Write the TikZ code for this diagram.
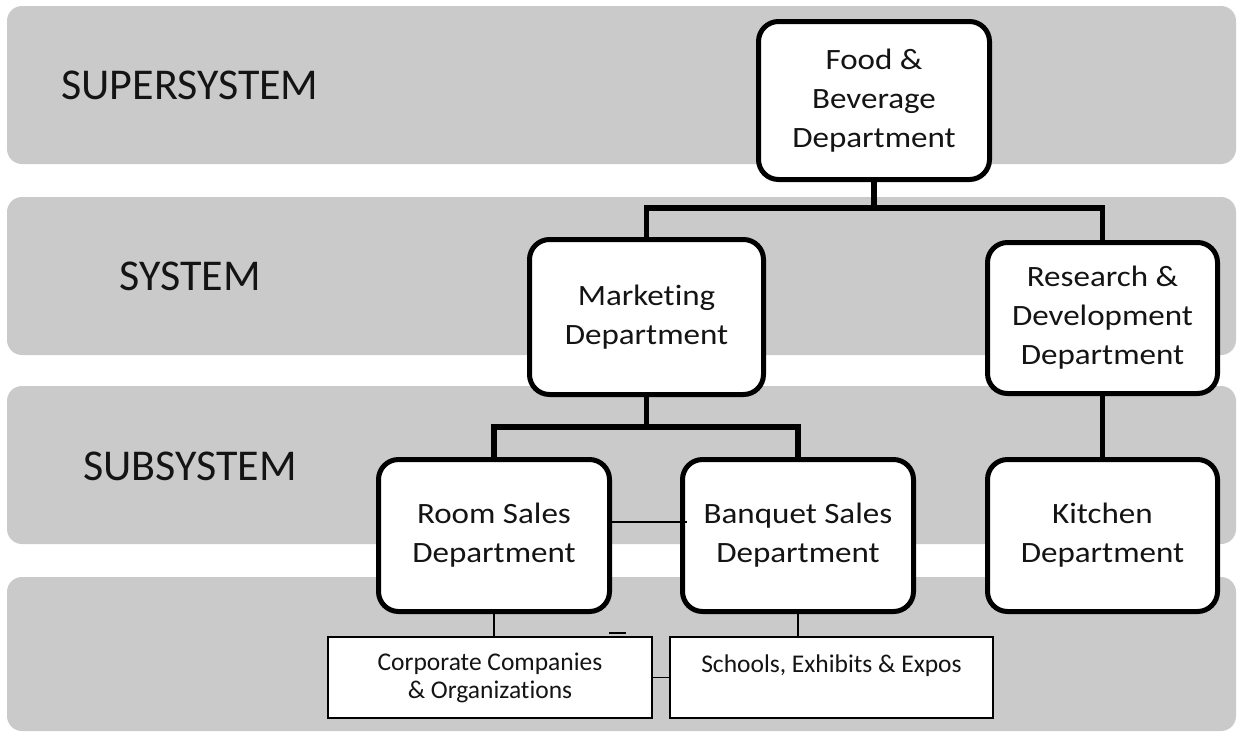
\documentclass[tikz,border=0pt]{standalone}
\usepackage{fontspec}
\setmainfont{Carlito}[Ligatures=NoCommon]
\newfontfamily\nodefont{Carlito}[FakeStretch=1.12, Ligatures=NoCommon]
\definecolor{bandgray}{HTML}{CACACA}
\definecolor{inkc}{HTML}{141414}
\tikzset{
  band/.style={fill=bandgray, rounded corners=15pt},
  lvl/.style={font=\fontsize{44}{50}\selectfont, text=inkc, inner sep=0pt},
  dept/.style={draw=black, fill=white, line width=5pt, rounded corners=20pt,
    align=center, inner sep=2pt, text=inkc,
    font=\nodefont\fontsize{29.5}{39}\selectfont},
  smallbox/.style={draw=black, fill=white, line width=1.8pt,
    align=center, inner sep=2pt, text=inkc,
    font=\fontsize{25.5}{28}\selectfont,
    minimum height=81pt},
  thickline/.style={line width=5.5pt},
  thinline/.style={line width=1.8pt}
}
\begin{document}
\begin{tikzpicture}[x=1pt,y=-1pt]
\useasboundingbox (0,0) rectangle (1239,732);
\fill[white] (0,0) rectangle (1239,732);
% bands
\fill[band] (7,6) rectangle (1236,164);
\fill[band] (7,197) rectangle (1236,355);
\fill[band] (7,386) rectangle (1236,544);
\fill[band] (7,577) rectangle (1236,731);
% level labels
\node[lvl] (lsup) at (190,85) {SUPERSYSTEM};
\node[lvl] (lsys) at (190,276) {SYSTEM};
\node[lvl] (lsub) at (190,466) {SUBSYSTEM};
% coordinates for bars
\coordinate (b1) at (0,208);
\coordinate (b2) at (0,427);
% department nodes
\node[dept, minimum width=231pt, minimum height=158pt] (food) at (874,100.5) {Food \&\\Beverage\\Department};
\node[dept, minimum width=234pt, minimum height=155pt] (mkt) at (646.5,317) {Marketing\\Department};
\node[dept, minimum width=230pt, minimum height=151pt] (rnd) at (1102.5,318) {Research \&\\Development\\Department};
\node[dept, minimum width=231pt, minimum height=152pt] (room) at (494,535.5) {Room Sales\\Department};
\node[dept, minimum width=231pt, minimum height=152pt] (banq) at (798,535.5) {Banquet Sales\\Department};
\node[dept, minimum width=230pt, minimum height=152pt] (kit) at (1102.5,535.5) {Kitchen\\Department};
\node[smallbox, minimum width=324pt] (corp) at (490,677.5) {Corporate Companies\\\& Organizations};
\node[smallbox, minimum width=323pt] (sch) at (831.5,677.5) {Schools, Exhibits \& Expos\\\mbox{}};
% connectors
\draw[thickline] (food.south) -- (food.south |- b1);
\draw[thickline] (mkt.north) -- (mkt.north |- b1) -- (rnd.north |- b1) -- (rnd.north);
\draw[thickline] (mkt.south) -- (mkt.south |- b2);
\draw[thickline] (room.north) -- (room.north |- b2) -- (banq.north |- b2) -- (banq.north);
\draw[thickline] (rnd.south) -- (kit.north);
\draw[thinline] ([yshift=13.5pt]room.east) -- ([xshift=7pt,yshift=13.5pt]banq.west);
\draw[thinline] (room.south) -- (room.south |- corp.north);
\draw[thinline] (banq.south) -- (banq.south |- sch.north);
\draw[thinline] (corp.east) -- (sch.west);
% stray mark
\coordinate (m1) at (609,633);
\coordinate (m2) at (626,633);
\draw[line width=2.5pt] (m1) -- (m2);
\end{tikzpicture}
\end{document}
